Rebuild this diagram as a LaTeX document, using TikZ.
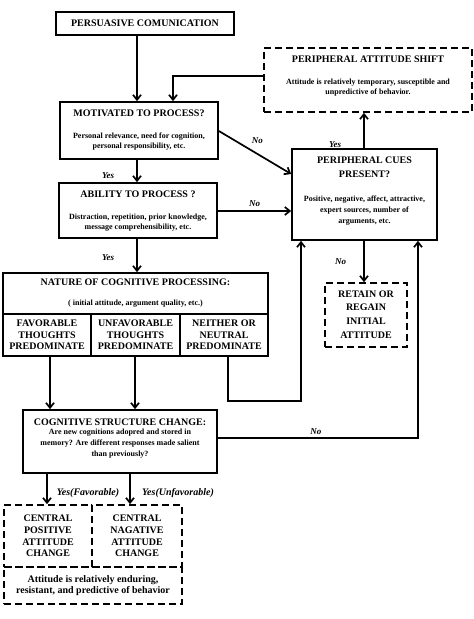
\documentclass[tikz,border=0pt]{standalone}
\usepackage{fontspec}
\setmainfont{Liberation Serif}
\usetikzlibrary{arrows.meta,calc}
\begin{document}
\begin{tikzpicture}[x=1pt,y=-1pt,
  box/.style={draw,line width=1.7pt,rectangle,inner sep=0pt},
  dbox/.style={box,dash pattern=on 7pt off 4pt},
  hdr/.style={font=\bfseries\fontsize{10}{14}\selectfont,align=center,inner sep=0pt},
  body/.style={font=\bfseries\fontsize{8}{10.7}\selectfont,align=center,inner sep=0pt},
  cell/.style={font=\bfseries\fontsize{10}{11.6}\selectfont,align=center,inner sep=0pt},
  lbl/.style={font=\bfseries\itshape\fontsize{9}{10}\selectfont,inner sep=0pt},
  lblb/.style={font=\bfseries\itshape\fontsize{10}{11}\selectfont,inner sep=0pt},
  arr/.style={line width=1.7pt,-{Straight Barb[length=5pt,width=8pt]}}
]
\useasboundingbox (0,0) rectangle (474,619);
% boxes
\node[box,minimum width=178pt,minimum height=23pt,hdr] (pc) at (145,23.5) {PERSUASIVE COMUNICATION};
\node[dbox,minimum width=208pt,minimum height=64pt] (pas) at (368,80) {};
\node[hdr] (past) at (368,59) {PERIPHERAL ATTITUDE SHIFT};
\node[body] (pasb) at (368,87.5) {Attitude is relatively temporary, susceptible and\\unpredictive of behavior.};
\node[box,minimum width=158pt,minimum height=57pt] (mot) at (139,130.5) {};
\node[hdr] (mott) at (139,113) {MOTIVATED TO PROCESS?};
\node[body] (motb) at (139,141.5) {Personal relevance, need for cognition,\\personal responsibility, etc.};
\node[box,minimum width=158pt,minimum height=55pt] (abil) at (138,210.5) {};
\node[hdr] (abilt) at (138,194) {ABILITY TO PROCESS ?};
\node[body] (abilb) at (138,222.5) {Distraction, repetition, prior knowledge,\\message comprehensibility, etc.};
\node[box,minimum width=145pt,minimum height=91pt] (cues) at (364.5,194.5) {};
\node[hdr] (cuest) at (364.5,167) {PERIPHERAL CUES\\PRESENT?};
\node[body] (cuesb) at (364.5,210.5) {Positive, negative, affect, attractive,\\expert sources, number of\\arguments, etc.};
% nature
\node[box,minimum width=265pt,minimum height=41pt] (nat) at (135.5,293.5) {};
\node[hdr] (natt) at (135.5,282) {NATURE OF COGNITIVE PROCESSING:};
\node[body] (natb) at (135.5,304) {( initial attitude, argument quality, etc.)};
\node[box,minimum width=88pt,minimum height=42pt,cell] (fav) at (47,335) {FAVORABLE\\THOUGHTS\\PREDOMINATE};
\node[box,minimum width=89pt,minimum height=42pt,cell] (unfav) at (135.5,335) {UNFAVORABLE\\THOUGHTS\\PREDOMINATE};
\node[box,minimum width=88pt,minimum height=42pt,cell] (neith) at (224,335) {NEITHER OR\\NEUTRAL\\PREDOMINATE};
% retain
\node[dbox,minimum width=82pt,minimum height=64pt] (ret) at (366,315) {};
\node[cell,font=\bfseries\fontsize{10}{13.6}\selectfont] (rett) at (366,314.5) {RETAIN OR\\REGAIN\\INITIAL\\ATTITUDE};
% cognitive
\node[box,minimum width=194pt,minimum height=63pt] (cog) at (120,441.5) {};
\node[hdr] (cogt) at (120,422) {COGNITIVE STRUCTURE CHANGE:};
\node[body,font=\bfseries\fontsize{8}{11}\selectfont] (cogb) at (120,444) {Are new cognitions adopred and stored in\\memory? Are different responses made salient\\than previously?};
% bottom
\node[dbox,minimum width=88pt,minimum height=62pt,cell,font=\bfseries\fontsize{10}{11.7}\selectfont] (cpos) at (48,536) {CENTRAL\\POSITIVE\\ATTITUDE\\CHANGE};
\node[dbox,minimum width=90pt,minimum height=62pt,cell,font=\bfseries\fontsize{10}{11.7}\selectfont] (cneg) at (137,536) {CENTRAL\\NAGATIVE\\ATTITUDE\\CHANGE};
\node[dbox,minimum width=178pt,minimum height=37pt,cell,font=\bfseries\fontsize{10}{11.5}\selectfont] (endur) at (93,585.5) {Attitude is relatively enduring,\\resistant, and predictive of behavior};
% connectors
\draw[arr] (137,0 |- pc.south) -- (137,0 |- mot.north);
\draw[arr] (pas.west |- 0,76) -| (173,0 |- mot.north);
\draw[arr] (137,0 |- mot.south) -- node[lbl,left=22pt,pos=0.7] (l1) {Yes} (137,0 |- abil.north);
\draw[arr] (mot.east |- 0,131) -- node[lbl,above=6pt,xshift=6pt,pos=0.45] (l2) {No} (cues.west |- 0,174);
\draw[arr] (abil.east |- 0,211) -- node[lbl,above=4pt] (l3) {No} (cues.west |- 0,211);
\draw[arr] (364,0 |- cues.north) -- node[lbl,left=22pt,pos=0.1] (l4) {Yes} (364,0 |- pas.south);
\draw[arr] (137,0 |- abil.south) -- node[lbl,left=22pt,pos=0.55] (l5) {Yes} (137,0 |- nat.north);
\draw[arr] (364,0 |- cues.south) -- node[lbl,left=17pt,pos=0.5] (l6) {No} (364,0 |- ret.north);
\coordinate (n1) at (228,401);
\draw[arr] (228,0 |- neith.south) |- (n1) -| (301,0 |- cues.south);
\draw[arr] (50,0 |- fav.south) -- (50,0 |- cog.north);
\draw[arr] (135,0 |- unfav.south) -- (135,0 |- cog.north);
\coordinate (n2) at (418,438);
\draw[arr] (cog.east |- n2) -- node[lbl,above=3pt,pos=0.49] (l7) {No} (n2) -- (418,0 |- cues.south);
\draw[arr] (47,0 |- cog.south) -- (47,0 |- cpos.north);
\draw[arr] (130,0 |- cog.south) -- (130,0 |- cneg.north);
\node[lblb] (l8) at (88,493) {Yes(Favorable)};
\node[lblb] (l9) at (178,493) {Yes(Unfavorable)};
\end{tikzpicture}
\end{document}
